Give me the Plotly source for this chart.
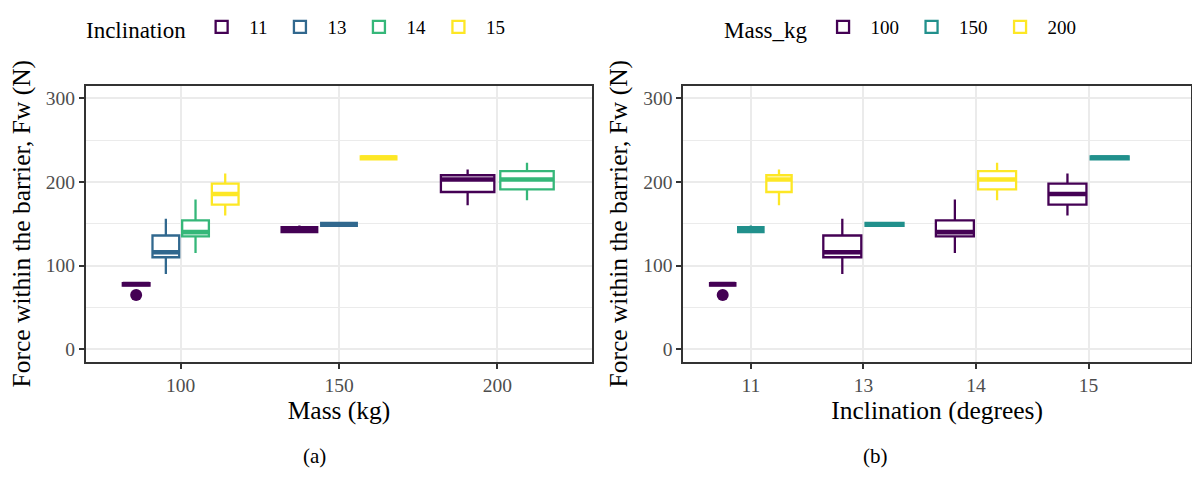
import plotly.graph_objects as go

# ---------------- data ----------------
mass_levels = [100, 150, 200]
incl_levels = [11, 13, 14, 15]

box_mass = [100, 100, 100, 100, 150, 150, 150, 200, 200]
box_incl = [11, 13, 14, 15, 11, 13, 15, 11, 14]
box_q1 = [76, 110, 135, 173, 140, 147.5, 227, 188, 191]
box_median = [78, 116, 140, 185.5, 143, 149, 229, 203, 203]
box_q3 = [79, 136, 154, 198, 146, 151, 230.5, 208, 213]
box_lower = [75.5, 90, 115, 160, 140, 147, 227, 172, 178]
box_upper = [79.5, 156, 179, 210, 148, 151.5, 231, 215, 223]

out_mass = [100]
out_incl = [11]
out_force = [65]

incl_colors = ["#440154", "#31688E", "#35B779", "#FDE725"]
mass_colors = ["#440154", "#21908C", "#FDE725"]

y_ticks = [0, 100, 200, 300]

FONT = "'Liberation Serif', 'Times New Roman', Times, 'DejaVu Serif', serif"
W, H = 1192, 483
LW = 2.3
MED_LW = 4.6
TITLE_SIZE = 25.5
TICK_SIZE = 19.5

fig = go.Figure()


def dodge(cat_vals, cat_levels, grp_vals):
    """ggplot position_dodge2-like placement: returns centers and widths."""
    centers, widths = [], []
    for c, g in zip(cat_vals, grp_vals):
        present = sorted({gg for cc, gg in zip(cat_vals, grp_vals) if cc == c})
        n = len(present)
        slot = 0.75 / n
        i = present.index(g)
        base = cat_levels.index(c) + 1
        centers.append(base - 0.375 + slot * (i + 0.5))
        widths.append(slot * 0.9)
    return centers, widths


def add_panel(cat_vals, cat_levels, grp_vals, grp_levels, colors, xa, ya, legend,
              out_cat, out_grp):
    centers, widths = dodge(cat_vals, cat_levels, grp_vals)
    shown = set()
    for k in range(len(cat_vals)):
        g = grp_vals[k]
        col = colors[grp_levels.index(g)]
        fig.add_trace(go.Box(
            x=[centers[k]], q1=[box_q1[k]], median=[box_median[k]], q3=[box_q3[k]],
            lowerfence=[box_lower[k]], upperfence=[box_upper[k]],
            width=widths[k], whiskerwidth=0, boxpoints=False,
            fillcolor="white", line=dict(color=col, width=LW),
            name=str(g), legendgroup=f"{legend}-{g}", legend=legend,
            showlegend=g not in shown, xaxis=xa, yaxis=ya,
            legendrank=grp_levels.index(g),
        ))
        shown.add(g)
    # thicker median segments (ggplot fatten)
    for g in grp_levels:
        xs, ys = [], []
        for k in range(len(cat_vals)):
            if grp_vals[k] == g:
                xs += [centers[k] - widths[k] / 2, centers[k] + widths[k] / 2, None]
                ys += [box_median[k], box_median[k], None]
        if xs:
            fig.add_trace(go.Scatter(
                x=xs, y=ys, mode="lines",
                line=dict(color=colors[grp_levels.index(g)], width=MED_LW),
                showlegend=False, xaxis=xa, yaxis=ya, hoverinfo="skip"))
    # outliers
    ox, oy, oc = [], [], []
    for c, g, v in zip(out_cat, out_grp, out_force):
        for k in range(len(cat_vals)):
            if cat_vals[k] == c and grp_vals[k] == g:
                ox.append(centers[k])
                oy.append(v)
                oc.append(colors[grp_levels.index(g)])
    fig.add_trace(go.Scatter(x=ox, y=oy, mode="markers",
                             marker=dict(color=oc, size=12),
                             showlegend=False, xaxis=xa, yaxis=ya))


add_panel(box_mass, mass_levels, box_incl, incl_levels, incl_colors,
          "x", "y", "legend", out_mass, out_incl)
add_panel(box_incl, incl_levels, box_mass, mass_levels, mass_colors,
          "x2", "y2", "legend2", out_incl, out_mass)

axis_common = dict(
    showline=True, mirror=True, linecolor="#333333", linewidth=1.8,
    ticks="outside", ticklen=5, tickwidth=1.8, tickcolor="#333333",
    tickfont=dict(family=FONT, size=TICK_SIZE, color="#4D4D4D"),
    showgrid=True, gridcolor="#EBEBEB", gridwidth=2, zeroline=False,
)

y_common = dict(axis_common, range=[-14.8, 315], tickvals=y_ticks,
                ticktext=[str(v) for v in y_ticks],
                minor=dict(dtick=50, tick0=0, showgrid=True, gridcolor="#EBEBEB",
                           gridwidth=1, ticks=""),
                title=dict(text="Force within the barrier, Fw (N)",
                           font=dict(family=FONT, size=TITLE_SIZE, color="black"),
                           standoff=8))

ydom = [(H - 361.7) / H, (H - 85.7) / H]

legend_common = dict(orientation="h", y=(H - 28) / H, xanchor="left", yanchor="middle",
                     font=dict(family=FONT, size=19, color="black"), itemwidth=45,
                     bgcolor="rgba(0,0,0,0)")

fig.update_layout(
    width=W, height=H, margin=dict(l=0, r=0, t=0, b=0),
    paper_bgcolor="white", plot_bgcolor="white",
    font=dict(family=FONT, color="black"),
    boxmode="overlay",
    xaxis=dict(axis_common, domain=[85.7 / W, 592.3 / W], range=[0.4, 3.6],
               tickvals=[1, 2, 3], ticktext=[str(m) for m in mass_levels],
               title=dict(text="Mass (kg)",
                          font=dict(family=FONT, size=TITLE_SIZE, color="black"),
                          standoff=2),
               anchor="y"),
    yaxis=dict(y_common, domain=ydom, anchor="x"),
    xaxis2=dict(axis_common, domain=[683.3 / W, 1191 / W], range=[0.4, 4.91],
                tickvals=[1, 2, 3, 4], ticktext=[str(i) for i in incl_levels],
                title=dict(text="Inclination (degrees)",
                           font=dict(family=FONT, size=TITLE_SIZE, color="black"),
                           standoff=2),
                anchor="y2"),
    yaxis2=dict(y_common, domain=ydom, anchor="x2"),
    legend=dict(legend_common, x=84 / W,
                title=dict(text="Inclination", font=dict(family=FONT, size=23, color="black"),
                           side="left")),
    legend2=dict(legend_common, x=722 / W,
                 title=dict(text="Mass_kg", font=dict(family=FONT, size=23, color="black"),
                            side="left")),
    annotations=[
        dict(text="(a)", x=301 / W, y=(H - 470) / H, xref="paper", yref="paper",
             showarrow=False, font=dict(family=FONT, size=21, color="black")),
        dict(text="(b)", x=890 / W, y=(H - 470) / H, xref="paper", yref="paper",
             showarrow=False, font=dict(family=FONT, size=21, color="black")),
    ],
)

fig.write_html("out.html")
